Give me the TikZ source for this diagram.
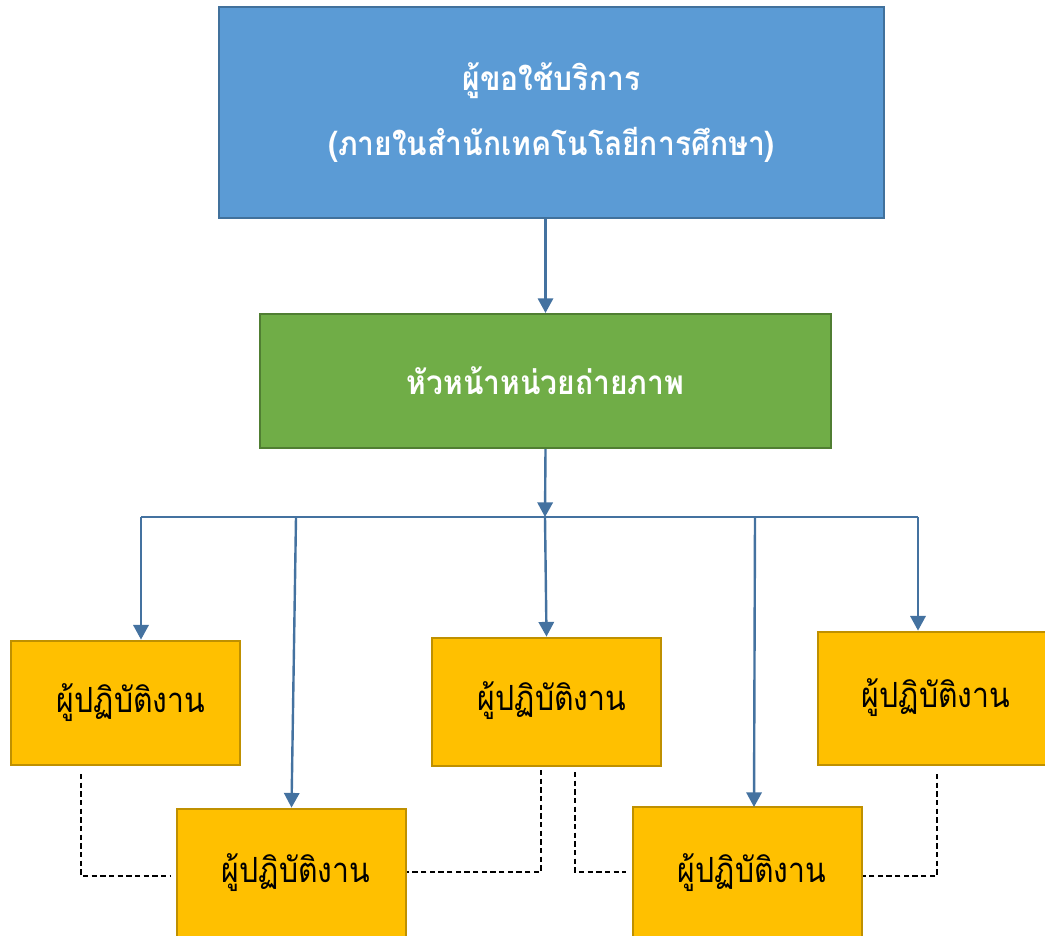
\documentclass[tikz,border=0pt]{standalone}
\usepackage{fontspec}
\newfontfamily\thaiW[Script=Thai,FakeStretch=0.9]{Loma}
\newfontfamily\thaiY[Script=Thai,FakeStretch=0.87]{Loma}
\usetikzlibrary{arrows.meta}
\definecolor{bluefill}{HTML}{5B9BD5}
\definecolor{blueline}{HTML}{41719C}
\definecolor{greenfill}{HTML}{70AD47}
\definecolor{greenline}{HTML}{507E32}
\definecolor{yellowfill}{HTML}{FFC000}
\definecolor{yellowline}{HTML}{BF9000}
\definecolor{connblue}{HTML}{4472A0}
\tikzset{
  box/.style={draw, line width=1.6pt, inner sep=0pt, anchor=center},
  bluebox/.style={box, fill=bluefill, draw=blueline, text=white, align=center,
    font=\thaiW\bfseries\fontsize{25}{49}\selectfont},
  greenbox/.style={box, fill=greenfill, draw=greenline, text=white,
    font=\thaiW\bfseries\fontsize{25}{29}\selectfont},
  yellowbox/.style={box, line width=2.1pt, fill=yellowfill, draw=yellowline},
  ytext/.style={font=\thaiY\fontsize{26}{30}\selectfont, text=black, inner sep=0pt},
  conn/.style={draw=connblue, line width=1.8pt, -{Triangle[width=11.5pt,length=11pt]}},
  busline/.style={draw=connblue, line width=1.8pt},
  dashline/.style={draw=black, line width=0.9pt, dash pattern=on 4pt off 2.5pt}
}
\begin{document}
\begin{tikzpicture}[x=0.75pt,y=-0.75pt]
\useasboundingbox (0,0) rectangle (1045,935);
% boxes
\node[bluebox, minimum width=498.75pt, minimum height=158.25pt] (req) at (551.5,112.5)
  {ผู้ขอใช้บริการ\\(ภายในสำนักเทคโนโลยีการศึกษา)};
\node[greenbox, minimum width=428.25pt, minimum height=100.5pt] (head) at (545.5,381)
  {หัวหน้าหน่วยถ่ายภาพ};
\node[yellowbox, minimum width=171.75pt, minimum height=93pt] (w1) at (125.5,703) {};
\node[yellowbox, minimum width=171.75pt, minimum height=98.25pt] (w2) at (291.5,874.5) {};
\node[yellowbox, minimum width=171.75pt, minimum height=96pt] (w3) at (546.5,702) {};
\node[yellowbox, minimum width=171.75pt, minimum height=99.75pt] (w4) at (747.5,873.5) {};
\node[yellowbox, minimum width=172.5pt, minimum height=99.75pt] (w5) at (933,698.5) {};
\node[ytext] (t1) at (131,703) {ผู้ปฏิบัติงาน};
\node[ytext] (t2) at (296,873) {ผู้ปฏิบัติงาน};
\node[ytext] (t3) at (552,701) {ผู้ปฏิบัติงาน};
\node[ytext] (t4) at (752,873) {ผู้ปฏิบัติงาน};
\node[ytext] (t5) at (936,698) {ผู้ปฏิบัติงาน};
% bus coordinates
\coordinate (bus) at (545,517);
\coordinate (b1) at (141,517);
\coordinate (b2) at (296,517);
\coordinate (b4) at (755,517);
\coordinate (b5) at (918,517);
\coordinate (e4) at (754,807);
% connectors
\draw[conn] (req.south -| head.north) -- (head.north);
\draw[conn] (head.south) -- (bus);
\draw[busline] (b1) -- (b5);
\draw[conn] (b1) -- (b1 |- w1.north);
\draw[conn] (b2) -- (w2.north);
\draw[conn] (bus) -- (w3.north);
\draw[conn] (b4) -- (e4);
\draw[conn] (b5) -- (b5 |- w5.north);
% dashed links
\coordinate (d1) at (81,774);
\coordinate (d1e) at (170,876);
\draw[dashline] (d1) |- (d1e);
\coordinate (d2) at (541,770);
\draw[dashline] (d2) |- (w2.east |- 0,872);
\coordinate (d3) at (575,772);
\coordinate (d3e) at (626,872);
\draw[dashline] (d3) |- (d3e);
\coordinate (d4) at (937,774);
\draw[dashline] (d4) |- (w4.east |- 0,876);
\end{tikzpicture}
\end{document}
